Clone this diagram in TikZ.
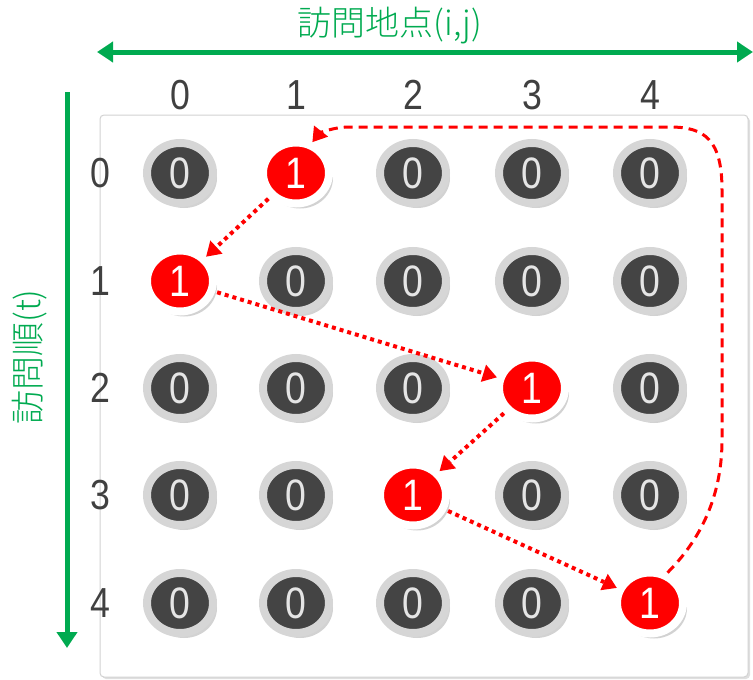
\documentclass[tikz,border=0pt]{standalone}
\usepackage{fontspec}
\setmainfont{Liberation Sans}
\newfontfamily\jpfont{Noto Sans CJK JP Light}
\usetikzlibrary{shapes.geometric,arrows.meta,shadows}
\definecolor{grn}{RGB}{0,170,80}
\definecolor{dk}{RGB}{68,68,68}
\definecolor{lbl}{RGB}{64,64,64}
\definecolor{ring}{RGB}{214,214,214}
\definecolor{rd}{RGB}{255,0,0}
\newcommand{\nrw}[1]{\scalebox{0.85}[1]{#1}}
\begin{document}
\begin{tikzpicture}[x=1pt,y=-1pt,
  zero/.style={ellipse,minimum width=66pt,minimum height=60pt,inner sep=0pt,fill=dk,draw=ring,line width=8pt,
     text=gray!20,font=\fontsize{44}{44}\selectfont,
     drop shadow={shadow xshift=4pt,shadow yshift=-5pt,opacity=0.35,fill=gray}},
  one/.style={ellipse,minimum width=66pt,minimum height=61pt,inner sep=0pt,fill=rd,draw=white,line width=8pt,
     text=white,font=\fontsize{44}{44}\selectfont,
     drop shadow={shadow xshift=4pt,shadow yshift=-5pt,opacity=0.35,fill=gray}},
  axlbl/.style={text=lbl,font=\fontsize{42}{42}\selectfont},
  dotarrow/.style={draw=rd,line width=4pt,dash pattern=on 4pt off 4pt,-{Triangle[width=18pt,length=14pt,line width=0pt]}},
  dasharrow/.style={draw=rd,line width=3pt,dash pattern=on 9pt off 6pt,-{Triangle[width=18pt,length=14pt,line width=0pt]}},
  axis/.style={draw=grn,line width=5pt}]
\useasboundingbox (0,0) rectangle (753,680);
% panel
\node[draw=gray!35,line width=1pt,fill=white,rounded corners=4pt,minimum width=648pt,minimum height=562pt,
  drop shadow={shadow xshift=2pt,shadow yshift=-2pt,opacity=0.25}] (panel) at (424,396) {};
% axes
\coordinate (tl) at (97,52); \coordinate (tr) at (753,52);
\draw[axis,{Triangle[width=20pt,length=16pt]}-{Triangle[width=20pt,length=16pt]}] (tl) -- (tr);
\node[text=grn,font=\jpfont\fontsize{34}{34}\selectfont] (toplbl) at (390,26) {訪問地点(i,j)};
\coordinate (lt) at (67,92); \coordinate (lb) at (67,648);
\draw[axis,-{Triangle[width=20pt,length=16pt]}] (lt) -- (lb);
\node[text=grn,font=\jpfont\fontsize{34}{34}\selectfont,rotate=90] (leftlbl) at (30,357) {訪問順(t)};
% labels
\foreach \i/\x in {0/180,1/296,2/413,3/532,4/650}{
  \node[axlbl] (col\i) at (\x,95) {\nrw{\i}};
}
\foreach \i/\y in {0/173,1/281,2/388,3/495,4/603}{
  \node[axlbl] (row\i) at (100,\y) {\nrw{\i}};
}
% grid
\foreach \r/\y/\one in {0/173/1,1/281/0,2/388/3,3/495/2,4/603/4}{
  \foreach \c/\x in {0/180,1/296,2/413,3/532,4/650}{
    \ifnum\c=\one
      \node[one] (c\r\c) at (\x,\y) {\nrw{1}};
    \else
      \node[zero] (c\r\c) at (\x,\y) {\nrw{0}};
    \fi
  }
}
% arrows
\draw[dotarrow,shorten <=2pt] (c01) -- (c10);
\draw[dotarrow,shorten <=2pt] (c10) -- (c23);
\draw[dotarrow,shorten <=2pt] (c23) -- (c32);
\draw[dotarrow,shorten <=2pt] (c32) -- (c44);
\coordinate (w1) at (722,440);
\coordinate (w2) at (722,190);
\coordinate (w3) at (670,127);
\coordinate (w4) at (350,127);
\draw[dasharrow] (c44.60) .. controls (705,535) and (722,490) .. (w1) -- (w2)
   .. controls (722,140) and (705,127) .. (w3) -- (w4) .. controls (330,127) and (318,135) .. (c01.62);
\end{tikzpicture}
\end{document}
